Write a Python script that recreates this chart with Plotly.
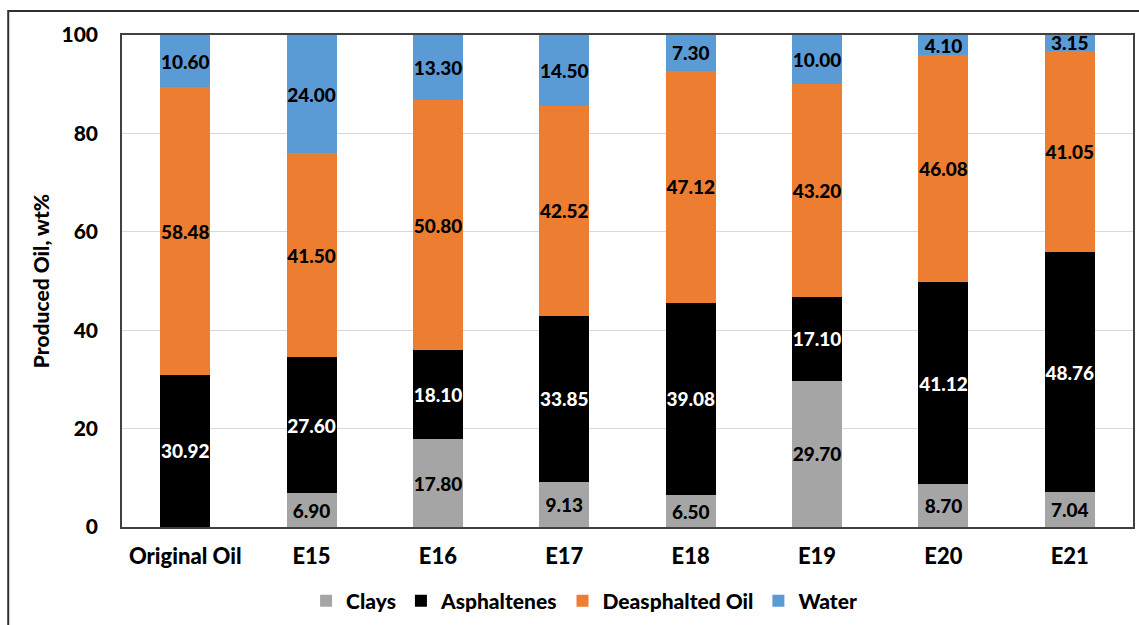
import plotly.graph_objects as go

categories = ["Original Oil", "E15", "E16", "E17", "E18", "E19", "E20", "E21"]
clays = [0, 6.90, 17.80, 9.13, 6.50, 29.70, 8.70, 7.04]
asphaltenes = [30.92, 27.60, 18.10, 33.85, 39.08, 17.10, 41.12, 48.76]
deasphalted = [58.48, 41.50, 50.80, 42.52, 47.12, 43.20, 46.08, 41.05]
water = [10.60, 24.00, 13.30, 14.50, 7.30, 10.00, 4.10, 3.15]

series = [
    ("Clays", clays, "#A5A5A5", "black"),
    ("Asphaltenes", asphaltenes, "#000000", "white"),
    ("Deasphalted Oil", deasphalted, "#ED7D31", "black"),
    ("Water", water, "#5B9BD5", "black"),
]

FONT = "Lato"
fig = go.Figure()
for name, vals, color, tcolor in series:
    fig.add_trace(go.Bar(
        name=name, x=categories, y=vals,
        marker=dict(color=color, line=dict(width=0)),
        text=[f"{v:.2f}" if v > 0 else "" for v in vals],
        textposition="inside", insidetextanchor="middle",
        textangle=0,
        textfont=dict(family=FONT, size=19, color=tcolor, weight=900),
        hoverinfo="x+y+name",
    ))

W, H = 1139, 625
L, R, T, B = 122, 4, 35, 98
pw, ph = W - L - R, H - T - B

def px(x):
    return (x - L) / pw

def py(y):
    return (H - B - y) / ph

fig.update_layout(
    barmode="stack", bargap=0.605,
    width=W, height=H,
    margin=dict(l=L, r=R, t=T, b=B),
    paper_bgcolor="white", plot_bgcolor="white",
    font=dict(family=FONT, color="black"),
    uniformtext=dict(minsize=19, mode="show"),
    legend=dict(orientation="h", x=px(585), xanchor="center", y=py(601), yanchor="middle",
                font=dict(family=FONT, size=21, color="black", weight=900),
                itemwidth=30, traceorder="normal", tracegroupgap=0),
    xaxis=dict(showline=True, linecolor="#404040", linewidth=1.5, mirror=True,
               ticks="", tickfont=dict(family=FONT, size=22, color="black", weight=900),
               ticklabelstandoff=9),
    yaxis=dict(range=[0, 100], tickvals=[0, 20, 40, 60, 80, 100],
               showline=True, linecolor="#404040", linewidth=1.5, mirror=True,
               showgrid=True, gridcolor="#D9D9D9", gridwidth=1, zeroline=False,
               ticks="", tickfont=dict(family=FONT, size=21, color="black", weight=900),
               ticklabelstandoff=18,
               title=dict(text="Produced Oil, wt%", standoff=6,
                          font=dict(family=FONT, size=21, color="black", weight=900))),
    shapes=[dict(type="rect", xref="paper", yref="paper",
                 x0=px(8), x1=px(1150), y0=py(640), y1=py(11),
                 line=dict(color="#303030", width=2), fillcolor="rgba(0,0,0,0)", layer="below")],
)

fig.write_html("out.html")
